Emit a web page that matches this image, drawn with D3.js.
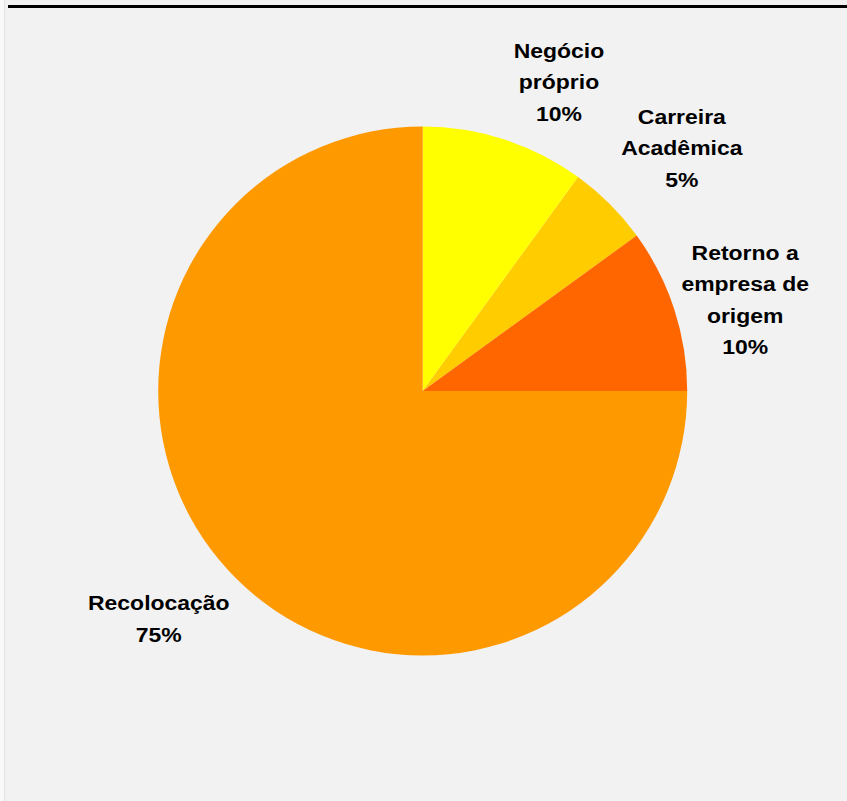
<!DOCTYPE html>
<html>
<head>
<meta charset="utf-8">
<script src="https://cdn.jsdelivr.net/npm/d3@7"></script>
<style>
html,body{margin:0;padding:0;background:#f2f2f2;}
svg{display:block;}
</style>
</head>
<body>
<svg id="chart" width="847" height="801"></svg>
<script>
const categories = ["Negócio próprio", "Carreira Acadêmica", "Retorno a empresa de origem", "Recolocação"];
const values = [10, 5, 10, 75];
const colors = ["#ffff00", "#ffcc00", "#ff6600", "#ff9900"];
const labelLines = [
  ["Negócio", "próprio", "10%"],
  ["Carreira", "Acadêmica", "5%"],
  ["Retorno a", "empresa de", "origem", "10%"],
  ["Recolocação", "75%"]
];

const W = 847, H = 801;
const cx = 422.7, cy = 391, R = 264.5;
const svg = d3.select("#chart");

svg.append("rect").attr("x", 0).attr("y", 0).attr("width", 4).attr("height", H).attr("fill", "#f9f9f9");
svg.append("line").attr("x1", 4.5).attr("x2", 4.5).attr("y1", 0).attr("y2", H)
  .attr("stroke", "#e2e2e2").attr("stroke-width", 1);
svg.append("rect").attr("x", 8).attr("y", 5).attr("width", W - 8).attr("height", 3).attr("fill", "#000");

const pie = d3.pie().sort(null).value(d => d)(values);
const arc = d3.arc().innerRadius(0).outerRadius(R);

const g = svg.append("g").attr("transform", `translate(${cx},${cy})`);
g.selectAll("path").data(pie).join("path")
  .attr("d", arc)
  .attr("fill", (d, i) => colors[i]);

// label placement: radial distance factor and angular nudge (degrees) from slice mid-angle
const labelRadius = [1.277, 1.344, 1.267, 1.318];
const labelNudge = [5.8, 1.8, 2.2, 4.2];
const lineH = 31.5;
const labels = svg.append("g");
pie.forEach((d, i) => {
  const mid = (d.startAngle + d.endAngle) / 2 + labelNudge[i] * Math.PI / 180;
  const lr = R * labelRadius[i];
  const x = cx + lr * Math.sin(mid);
  const y = cy - lr * Math.cos(mid);
  const lines = labelLines[i];
  const t = labels.append("text")
    .attr("transform", `translate(${x},${y}) scale(1.12,1)`)
    .attr("text-anchor", "middle")
    .attr("font-family", "Liberation Sans, Arial, sans-serif")
    .attr("font-weight", "bold")
    .attr("font-size", 20.5)
    .attr("fill", "#000");
  const y0 = -(lines.length - 1) * lineH / 2;
  lines.forEach((ln, k) => {
    t.append("tspan").attr("x", 0).attr("y", y0 + k * lineH).attr("dy", "0.36em").text(ln);
  });
});
</script>
</body>
</html>
